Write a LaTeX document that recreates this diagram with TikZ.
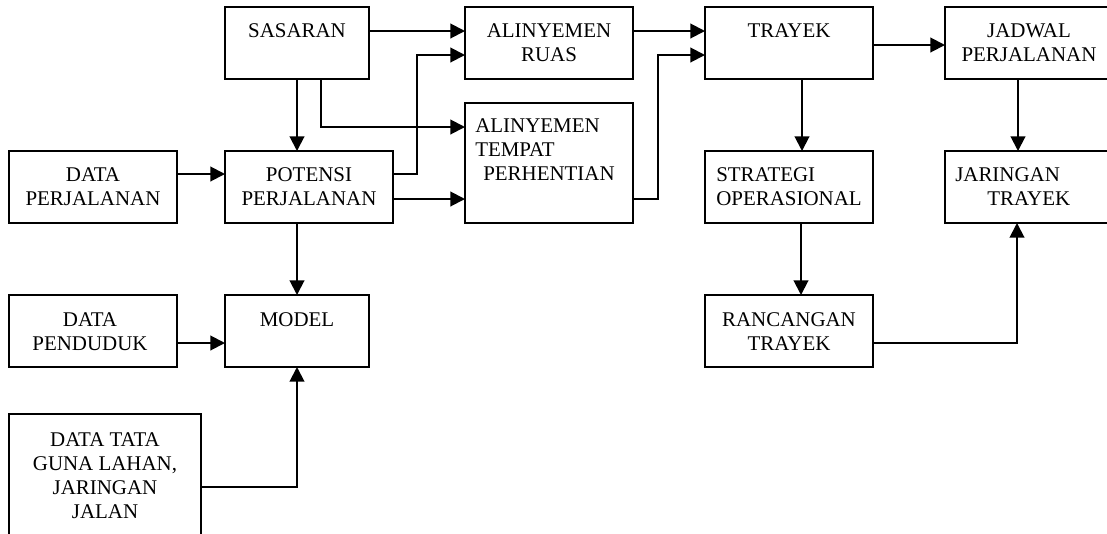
\documentclass[tikz,border=0pt]{standalone}
\usepackage{fontspec}
\setmainfont{Liberation Serif}
\usetikzlibrary{arrows.meta,calc}
\begin{document}
\begin{tikzpicture}[x=0.75pt,y=-0.75pt,
  box/.style={draw,line width=1.6pt,inner sep=0pt,outer sep=0pt,minimum width=126pt,minimum height=54pt},
  narrow/.style={minimum width=108pt},
  txt/.style={inner sep=0pt,anchor=north,align=center,font=\fontsize{15.7}{18}\selectfont},
  arr/.style={line width=1.5pt,-{Triangle[length=11pt,width=11pt]}},
  ln/.style={line width=1.5pt}]
\clip (0,0) rectangle (1107,533);
% boxes
\node[box,narrow] (sas) at (297,43) {};
\node[box] (ruas) at (549,43) {};
\node[box] (tray) at (789,43) {};
\node[box] (jad) at (1029,43) {};
\node[box] (dper) at (93,187) {};
\node[box] (pot) at (309,187) {};
\node[box,minimum height=90pt] (temp) at (549,163) {};
\node[box] (strat) at (789,187) {};
\node[box] (jar) at (1029,187) {};
\node[box] (dpen) at (93,331) {};
\node[box,narrow] (model) at (297,331) {};
\node[box] (ranc) at (789,331) {};
\node[box,minimum width=144pt,minimum height=108pt] (dtata) at (105,486) {};
% texts
\node[txt] (sast) at ($(sas.north)+(0,16)$) {SASARAN};
\node[txt] (ruast) at ($(ruas.north)+(0,16)$) {ALINYEMEN\\RUAS};
\node[txt] (trayt) at ($(tray.north)+(0,16)$) {TRAYEK};
\node[txt] (jadt) at ($(jad.north)+(0,16)$) {JADWAL\\PERJALANAN};
\node[txt] (dpert) at ($(dper.north)+(0,16)$) {DATA\\PERJALANAN};
\node[txt] (pott) at ($(pot.north)+(0,16)$) {POTENSI\\PERJALANAN};
\node[txt,anchor=north west,align=left] (tempt) at ($(temp.north west)+(10,15)$) {ALINYEMEN\\TEMPAT\\\hspace*{6pt}PERHENTIAN};
\node[txt,align=left] (stratt) at ($(strat.north)+(0,16)$) {STRATEGI\\OPERASIONAL};
\node[txt,anchor=north west,align=left] (jart) at ($(jar.north west)+(10,16)$) {JARINGAN\\\hspace*{24pt}TRAYEK};
\node[txt] (dpent) at ($(dpen.north)+(-3,17)$) {DATA\\PENDUDUK};
\node[txt] (modelt) at ($(model.north)+(0,17)$) {MODEL};
\node[txt] (ranct) at ($(ranc.north)+(0,17)$) {RANCANGAN\\TRAYEK};
\node[txt] (dtatat) at ($(dtata.north)+(0,18)$) {DATA TATA\\GUNA LAHAN,\\JARINGAN\\JALAN};
% connectors
\draw[arr] ($(sas.north east)+(0,24)$) -- ($(ruas.north west)+(0,24)$);
\draw[arr] ($(pot.north east)+(0,23)$) -- ++(24,0) |- ($(ruas.north west)+(0,48)$);
\draw[arr] (sas.south) -- (sas.south |- pot.north);
\draw[arr] ($(sas.south)+(24,0)$) |- ($(temp.north west)+(0,24)$);
\draw[arr] ($(dper.north east)+(0,23)$) -- ($(pot.north west)+(0,23)$);
\draw[arr] ($(pot.north east)+(0,48)$) -- ($(temp.north west)+(0,96)$);
\draw[arr] ($(ruas.north east)+(0,24)$) -- ($(tray.north west)+(0,24)$);
\draw[arr] ($(temp.north east)+(0,96)$) -- ++(25,0) |- ($(tray.north west)+(0,48)$);
\draw[arr] ($(tray.north east)+(0,38)$) -- ($(jad.north west)+(0,38)$);
\draw[arr] ($(tray.south west)+(97,0)$) -- ($(strat.north west)+(97,0)$);
\draw[arr] ($(jad.south west)+(73,0)$) -- ($(jar.north west)+(73,0)$);
\draw[arr] ($(strat.south west)+(96,0)$) -- ($(ranc.north west)+(96,0)$);
\draw[arr] ($(ranc.north east)+(0,48)$) -| ($(jar.south west)+(72,0)$);
\draw[arr] (pot.south -| model.north) -- (model.north);
\draw[arr] ($(dpen.north east)+(0,48)$) -- ($(model.north west)+(0,48)$);
\draw[arr] ($(dtata.north east)+(0,73)$) -| (model.south);
\end{tikzpicture}
\end{document}
